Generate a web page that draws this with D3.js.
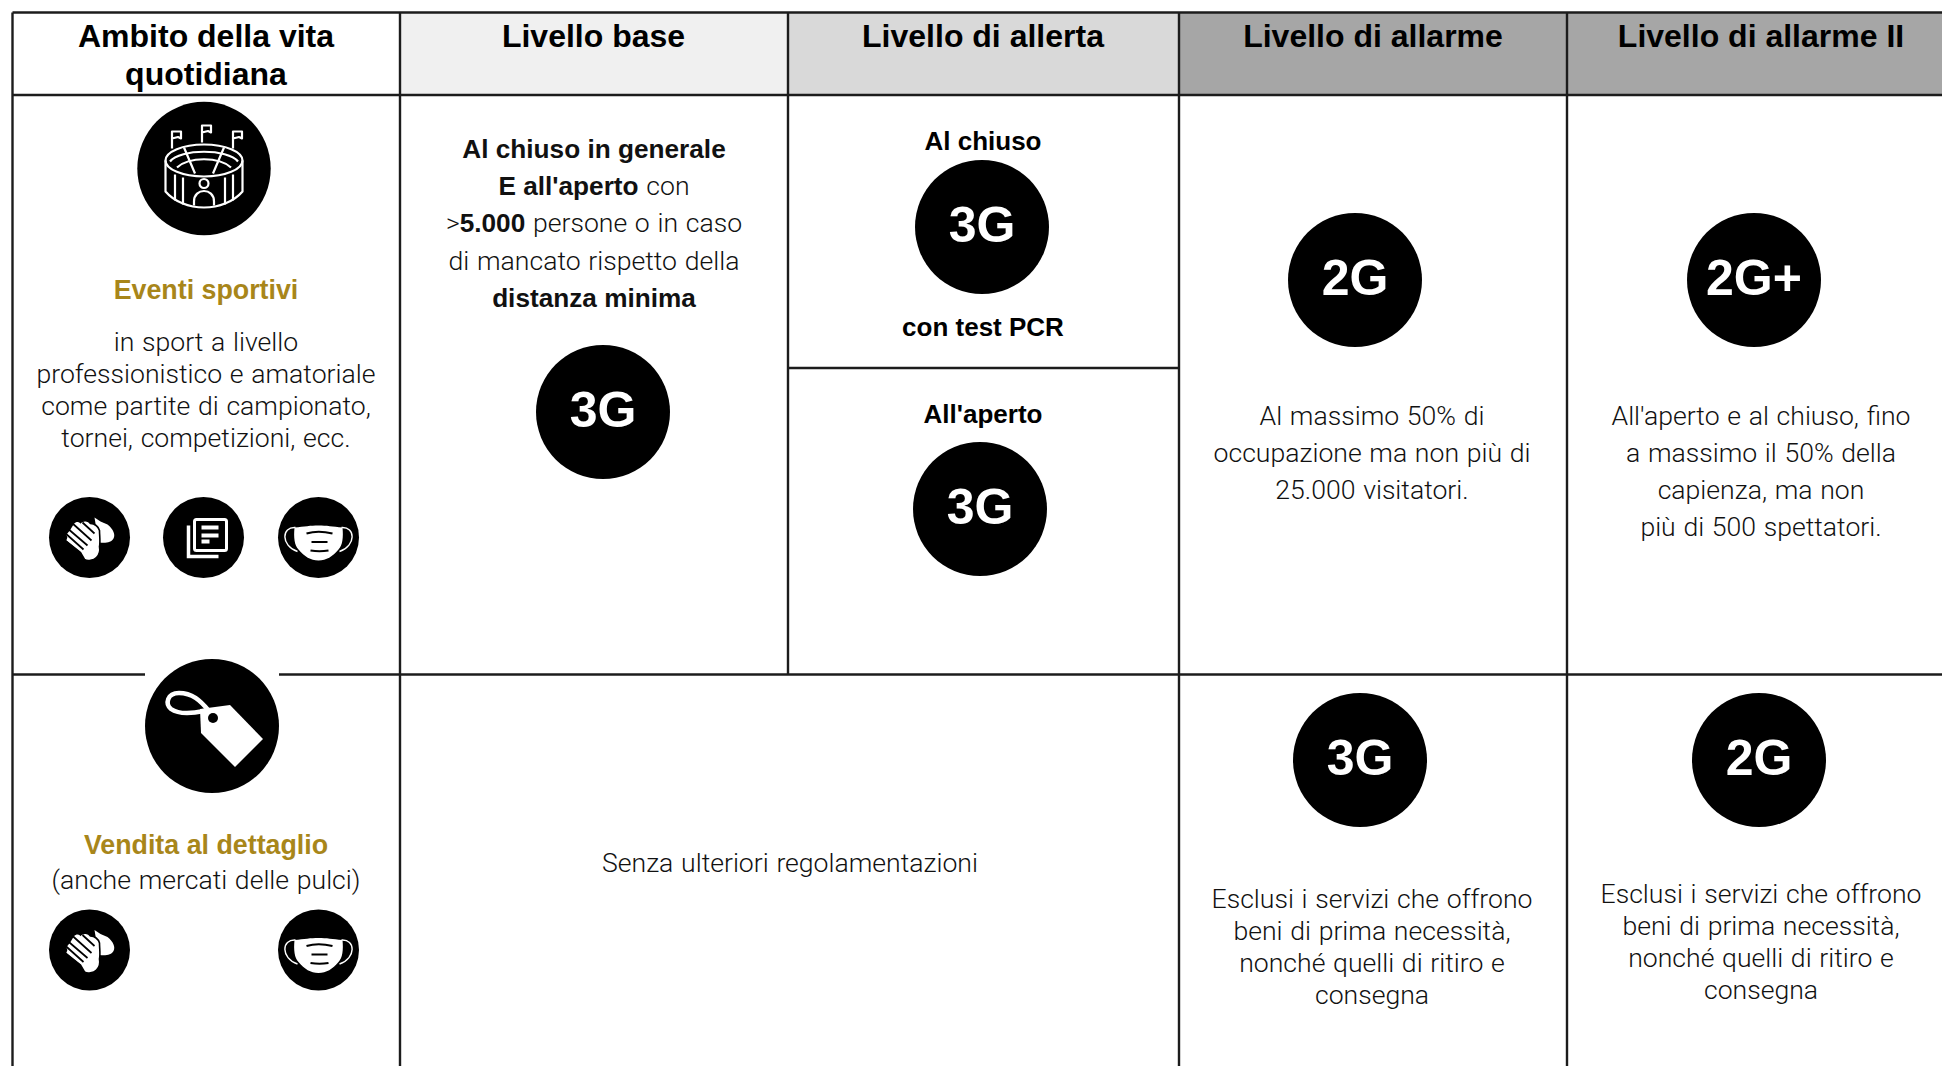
<!DOCTYPE html>
<html>
<head>
<meta charset="utf-8">
<script src="https://cdn.jsdelivr.net/npm/d3@7"></script>
<style>
    body { margin: 0; background: #fff; }
    svg { display: block; }
    text { text-anchor: middle; fill: #111; }
    .head { font: bold 32px "Liberation Sans", sans-serif; fill: #000; }
    .body { font: 300 26.6px Roboto, sans-serif; word-spacing: 1.2px; }
    .body .strong, .strong { font-family: "Liberation Sans", sans-serif; font-weight: bold; font-size: 26.2px; word-spacing: 0; }
    .gold { font: bold 26.8px "Liberation Sans", sans-serif; fill: #a8861a; }
    .sub { font: bold 26px "Liberation Sans", sans-serif; fill: #000; }
    .badge { font: bold 50px "Liberation Sans", sans-serif; fill: #fff; }
</style>
</head>
<body>
<div id="chart"></div>
<script>
// Table content, "**" marks the bold parts of a line
var levels = ["Livello base", "Livello di allerta", "Livello di allarme", "Livello di allarme II"];
var domainHead = ["Ambito della vita", "quotidiana"];

var sportTitle = ["Eventi sportivi"];
var sportDesc = ["in sport a livello", "professionistico e amatoriale", "come partite di campionato,", "tornei, competizioni, ecc."];
var sportBase = ["**Al chiuso in generale**", "**E all'aperto** con", ">**5.000** persone o in caso", "di mancato rispetto della", "**distanza minima**"];
var sportAlarm = ["Al massimo 50% di", "occupazione ma non più di", "25.000 visitatori."];
var sportAlarm2 = ["All'aperto e al chiuso, fino", "a massimo il 50% della", "capienza, ma non", "più di 500 spettatori."];

var retailTitle = ["Vendita al dettaglio"];
var retailDesc = ["(anche mercati delle pulci)"];
var retailNone = ["Senza ulteriori regolamentazioni"];
var retailAlarm = ["Esclusi i servizi che offrono", "beni di prima necessità,", "nonché quelli di ritiro e", "consegna"];

var svg = d3.select("#chart").append("svg")
    .attr("width", 1942)
    .attr("height", 1066);

// Column and row borders of the table
var colX = d3.scaleLinear().domain([0, 1, 2, 3, 4, 5]).range([12.5, 400, 788, 1179, 1567, 1955]);
var rowY = d3.scaleLinear().domain([0, 1, 2, 3]).range([12.5, 95, 674.5, 1080]);
var headFill = d3.scaleOrdinal().domain([0, 1, 2, 3, 4]).range(["#ffffff", "#f0f0f0", "#d9d9d9", "#a6a6a6", "#a6a6a6"]);

svg.selectAll("rect.headcell")
    .data(d3.range(5))
    .enter()
    .append("rect")
    .attr("class", "headcell")
    .attr("x", d => colX(d))
    .attr("y", rowY(0))
    .attr("width", d => colX(d + 1) - colX(d))
    .attr("height", rowY(1) - rowY(0))
    .attr("fill", d => headFill(d));

var grid = svg.append("g").attr("stroke", "#1c1c1c").attr("stroke-width", 2.4);
grid.selectAll("line.v")
    .data(d3.range(5))
    .enter()
    .append("line")
    .attr("class", "v")
    .attr("x1", d => colX(d))
    .attr("x2", d => colX(d))
    .attr("y1", rowY(0))
    // the border between base and alert stops at the retail row, that cell is merged
    .attr("y2", d => d == 2 ? rowY(2) : rowY(3));
grid.selectAll("line.h")
    .data(d3.range(3))
    .enter()
    .append("line")
    .attr("class", "h")
    .attr("x1", colX(0))
    .attr("x2", colX(5))
    .attr("y1", d => rowY(d))
    .attr("y2", d => rowY(d));
// split of the alert column
grid.append("line")
    .attr("x1", colX(2)).attr("x2", colX(3))
    .attr("y1", 368).attr("y2", 368);

// Write lines of text, splitting a line on ** for the bold parts
function lines(list, cx, y, step, cls) {
    var sel = svg.append("g").selectAll("text")
        .data(list)
        .enter()
        .append("text")
        .attr("class", cls)
        .attr("x", cx)
        .attr("y", (d, i) => y + i * step);
    sel.each(function(d) {
        var node = d3.select(this);
        d.split("**").forEach(function(part, i) {
            if (part) node.append("tspan").classed("strong", i % 2 == 1).text(part);
        });
    });
}

function badge(cx, cy, label) {
    svg.append("circle").attr("cx", cx).attr("cy", cy).attr("r", 67).attr("fill", "#000");
    svg.append("text").attr("class", "badge").attr("x", cx).attr("y", cy + 15).text(label);
}

function iconGroup(cx, cy, r) {
    var g = svg.append("g").attr("transform", `translate(${cx},${cy})`);
    g.append("circle").attr("r", r).attr("fill", "#000");
    return g;
}

function stadiumIcon(cx, cy) {
    var g = iconGroup(cx, cy, 66.7).append("g")
        .attr("fill", "none").attr("stroke", "#fff").attr("stroke-width", 2.2).attr("stroke-linejoin", "round");
    g.append("path").attr("d", "M-32,-20V-37H-23V-30L-26,-31.5L-32,-30 M-2,-26V-43H7V-36L4,-37.5L-2,-36 M29,-20V-37H38V-30L35,-31.5L29,-30");
    g.append("ellipse").attr("cy", -8).attr("rx", 38.5).attr("ry", 16);
    g.append("path").attr("d", "M-38.5,-8V23C-30,33 -15,39 0,39C15,39 30,33 38.5,23V-8");
    g.append("path").attr("d", "M-34,-7C-24,-20 24,-20 34,-7 M-27,-1C-15,-12 15,-12 27,-1");
    g.append("path").attr("d", "M-20,-21L-9,5 M20,-21L9,5");
    g.append("path").attr("d", "M-29,6V32 M-21,9V36 M21,9V36 M29,6V32");
    g.append("circle").attr("cy", 15).attr("r", 4.5);
    g.append("path").attr("d", "M-10,37V33C-10,19 10,19 10,33V37");
}

function handsIcon(cx, cy) {
    var g = iconGroup(cx, cy, 40.5);
    // hand behind
    g.append("path").attr("fill", "#fff")
        .attr("d", "M5,-20L11,-16L18,-13C24,-8 26,-3 24,1C22,5 16,6 10,5L7,-8Z");
    // hand in front, the fingers run to the lower left
    g.append("path").attr("fill", "#fff").attr("stroke", "#000").attr("stroke-width", 1.6)
        .attr("d", "M-17,-13C-15,-17 -11,-17 -9,-15C-6,-18 -1,-17 1,-14C5,-14 9,-11 10,-7C10,-2 11,4 10,9C11,14 9,18 7,20C4,23 -2,24 -5,22L-9,15L-24,3L-23,0L-24,-3L-20,-8Z");
    g.append("path").attr("fill", "none").attr("stroke", "#000").attr("stroke-width", 1.7)
        .attr("d", "M-25,-5L-6,12 M-23,-10L-2,8 M-18,-15L2,3 M-26,2L-10,15 M-7,-15L5,-4");
}

function newsIcon(cx, cy) {
    var g = iconGroup(cx, cy, 40.5);
    g.append("rect").attr("x", -9).attr("y", -18).attr("width", 32).attr("height", 31).attr("rx", 2)
        .attr("fill", "none").attr("stroke", "#fff").attr("stroke-width", 3);
    g.append("path").attr("fill", "none").attr("stroke", "#fff").attr("stroke-width", 3.5)
        .attr("d", "M-15,-12V19H15");
    g.selectAll("rect.bar")
        .data([[-2, -12, 17], [-2, -4, 17], [-2, 2, 8]])
        .enter()
        .append("rect")
        .attr("class", "bar")
        .attr("x", d => d[0]).attr("y", d => d[1]).attr("width", d => d[2]).attr("height", 4)
        .attr("fill", "#fff");
}

function maskIcon(cx, cy) {
    var g = iconGroup(cx, cy, 40.5);
    g.append("path").attr("fill", "none").attr("stroke", "#fff").attr("stroke-width", 1.4)
        .attr("d", "M-23,-10C-37,-11 -38,8 -21,14 M23,-10C37,-11 38,8 21,14");
    g.append("path").attr("fill", "#fff")
        .attr("d", "M-24,-10C-14,-11 -8,-12 0,-12C8,-12 14,-11 24,-10C25,0 24,8 20,12C14,19 8,23 0,23C-8,23 -14,19 -20,12C-24,8 -25,0 -24,-10Z");
    g.append("path").attr("fill", "none").attr("stroke", "#000").attr("stroke-width", 2)
        .attr("d", "M-12,-4C-4,-6.5 4,-6.5 14,-4 M-7,4.5H9 M-8,13C-2,14 4,14 10,13");
}

function tagIcon(cx, cy) {
    var g = iconGroup(cx, cy, 67);
    g.append("path").attr("fill", "#fff")
        .attr("d", "M-12,-17L18,-21L51,13L23,41L-11,7Z");
    g.append("circle").attr("cx", 1).attr("cy", -8).attr("r", 5).attr("fill", "#000");
    g.append("path").attr("fill", "none").attr("stroke", "#fff").attr("stroke-width", 4.5)
        .attr("d", "M-3,-15C-12,-26 -20,-33 -33,-33C-45,-33 -47,-22 -41,-17C-34,-12 -22,-12 -8,-15");
}

// Header row
lines(domainHead, 206, 47, 37.5, "head");
lines([levels[0]], 593.5, 47, 0, "head");
lines([levels[1]], 983, 47, 0, "head");
lines([levels[2]], 1373, 47, 0, "head");
lines([levels[3]], 1761, 47, 0, "head");

// Sport events row
stadiumIcon(204, 168.5);
lines(sportTitle, 206, 299, 0, "gold");
lines(sportDesc, 206, 350.5, 32, "body");
handsIcon(89.5, 537.5);
newsIcon(203.5, 537.5);
maskIcon(318.5, 537.5);

lines(sportBase, 594, 158, 37.2, "body");
badge(603, 412, "3G");

lines(["Al chiuso"], 983, 150, 0, "sub");
badge(982, 227, "3G");
lines(["con test PCR"], 983, 336, 0, "sub");
lines(["All'aperto"], 983, 423, 0, "sub");
badge(980, 509, "3G");

badge(1355, 280, "2G");
lines(sportAlarm, 1372, 424.5, 37.2, "body");
badge(1754, 280, "2G+");
lines(sportAlarm2, 1761, 424.5, 37.2, "body");

// Retail row, the big icon sits on the row border
svg.append("rect").attr("x", 145).attr("y", 670).attr("width", 134).attr("height", 8).attr("fill", "#fff");
tagIcon(212, 726);
lines(retailTitle, 206, 854, 0, "gold");
lines(retailDesc, 206, 889, 0, "body");
handsIcon(89.5, 950);
maskIcon(318.5, 950);

lines(retailNone, 790, 872, 0, "body");

badge(1360, 760, "3G");
lines(retailAlarm, 1372, 908, 32, "body");
badge(1759, 760, "2G");
lines(retailAlarm, 1761, 903, 32, "body");
</script>
</body>
</html>
